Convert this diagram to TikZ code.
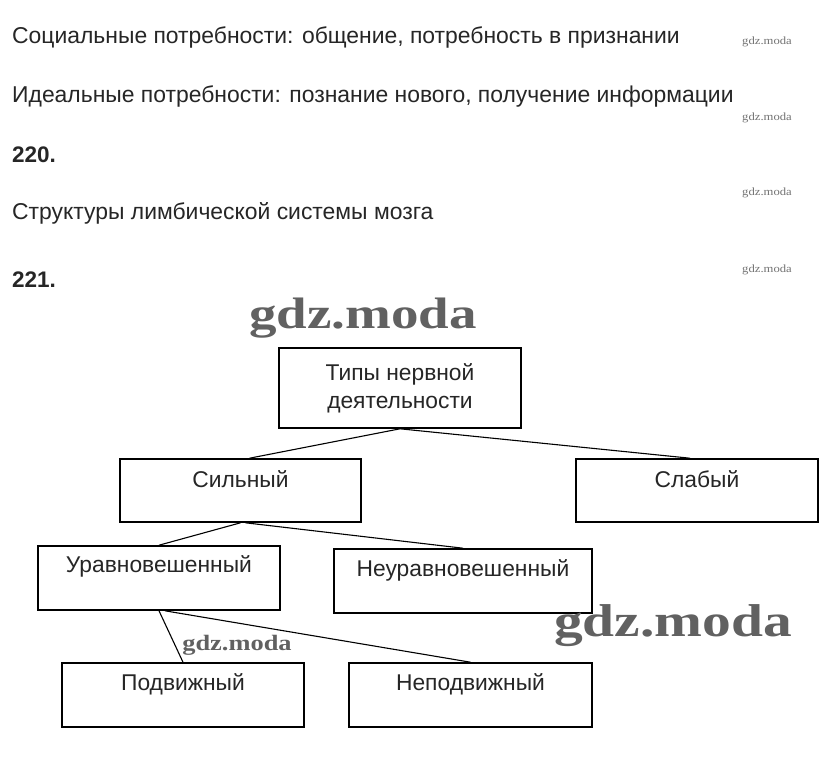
\documentclass[tikz,border=0pt]{standalone}
\usepackage{fontspec}
\setmainfont{Liberation Sans}
\newfontfamily\wmfont{Liberation Serif}
\begin{document}
\begin{tikzpicture}[x=1pt,y=-1pt,
  txt/.style={anchor=west,inner sep=0pt,text=black!85,font=\fontsize{22.9}{26}\selectfont},
  boxnode/.style={draw=black,line width=1.6pt,inner sep=0pt,text=black!85,
    font=\fontsize{22.8}{28}\selectfont,align=center},
  boxlbl/.style={anchor=center,inner sep=0pt,text=black!85,font=\fontsize{22.8}{26}\selectfont},
  conn/.style={draw=black,line width=1.1pt},
  wmsmall/.style={inner sep=0pt,text=black!55,xscale=1.15,transform shape,font=\wmfont\fontsize{11}{12}\selectfont},
  wmbig/.style={inner sep=0pt,text=black!62,xscale=1.25,transform shape,font=\wmfont\bfseries\fontsize{44}{50}\selectfont}]
\useasboundingbox (0,0) rectangle (828,777);
\fill[white] (0,0) rectangle (828,777);

% top text
\node[txt] (t1) at (12,37) {Социальные потребности: общение, потребность в признании};
\node[txt] (t2) at (12,96) {Идеальные потребности: познание нового, получение информации};
\node[txt,font=\bfseries\fontsize{22.5}{26}\selectfont] (t3) at (12,155) {220.};
\node[txt] (t4) at (12,213) {Структуры лимбической системы мозга};
\node[txt,font=\bfseries\fontsize{22.5}{26}\selectfont] (t5) at (12,280) {221.};

% small watermarks
\node[wmsmall] (w1) at (767,42) {gdz.moda};
\node[wmsmall] (w2) at (767,118) {gdz.moda};
\node[wmsmall] (w3) at (767,193) {gdz.moda};
\node[wmsmall] (w4) at (767,270) {gdz.moda};

% boxes
\node[boxnode,minimum width=242pt,minimum height=80pt] (top) at (400,388)
  {Типы нервной\\[0pt]деятельности};
\node[boxnode,minimum width=241pt,minimum height=63pt,
  label={[boxlbl,name=silL,yshift=-21pt]north:Сильный}] (sil) at (240.5,490.5) {};
\node[boxnode,minimum width=242pt,minimum height=63pt,
  label={[boxlbl,name=slabL,yshift=-21pt]north:Слабый}] (slab) at (697,490.5) {};
\node[boxnode,minimum width=242pt,minimum height=64pt,
  label={[boxlbl,name=uravL,yshift=-21pt]north:Уравновешенный}] (urav) at (159,578) {};
\node[boxnode,minimum width=258pt,minimum height=64pt,
  label={[boxlbl,name=neuravL,yshift=-22pt]north:Неуравновешенный}] (neurav) at (463,581) {};
\node[boxnode,minimum width=242pt,minimum height=64pt,
  label={[boxlbl,name=podvL,yshift=-22pt]north:Подвижный}] (podv) at (183,695) {};
\node[boxnode,minimum width=243pt,minimum height=64pt,
  label={[boxlbl,name=nepodvL,yshift=-22pt]north:Неподвижный}] (nepodv) at (470.5,695) {};

% connectors
\draw[conn] (top.south) -- ([xshift=9pt]sil.north);
\draw[conn] (top.south) -- ([xshift=-7pt]slab.north);
\draw[conn] (sil.south) -- (urav.north);
\draw[conn] ([xshift=5pt]sil.south) -- (neurav.north);
\draw[conn] (urav.south) -- (podv.north);
\draw[conn] ([xshift=6pt]urav.south) -- (nepodv.north);

% big watermarks
\node[wmbig] (w5) at (363,318) {gdz.moda};
\node[wmbig,font=\wmfont\bfseries\fontsize{46}{52}\selectfont] (w6) at (673,626) {gdz.moda};
\node[wmbig,xscale=0.96,font=\wmfont\bfseries\fontsize{22}{26}\selectfont] (w7) at (237,645) {gdz.moda};
\end{tikzpicture}
\end{document}
